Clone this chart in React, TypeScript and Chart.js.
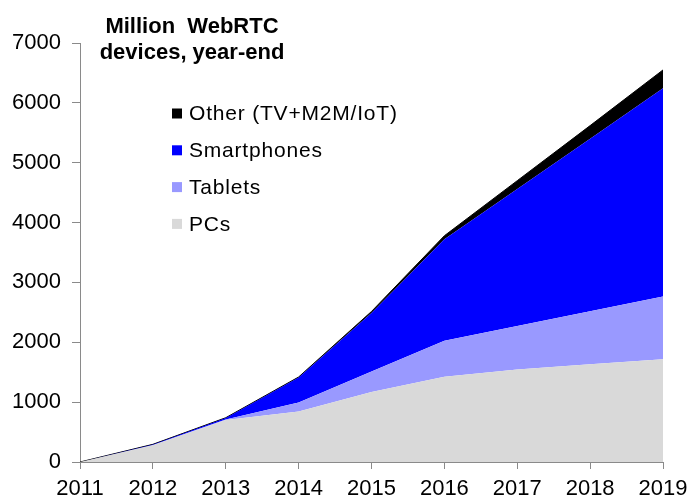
import React, { useEffect, useRef } from "react";
import { Chart, registerables } from "chart.js";

Chart.register(...registerables);

const YEARS = ["2011", "2012", "2013", "2014", "2015", "2016", "2017", "2018", "2019"];
const PCS = [0, 280, 700, 845, 1170, 1425, 1545, 1635, 1715];
const TABLETS = [0, 5, 12, 150, 340, 600, 725, 885, 1050];
const SMARTPHONES = [0, 7, 23, 415, 980, 1695, 2290, 2880, 3480];
const OTHER = [0, 3, 5, 10, 25, 60, 140, 220, 305];
const SERIES_LABELS = ["PCs", "Tablets", "Smartphones", "Other (TV+M2M/IoT)"];
const TITLE_LINES = ["Million  WebRTC", "devices, year-end"];
const Y_MIN = 0;
const Y_MAX = 7000;
const Y_STEP = 1000;

const FONT = '"Liberation Sans", Arial, sans-serif';
const AXIS_COLOR = "#8a8a8a";

const overlay = {
  id: "overlay",
  afterDraw(chart: any) {
    const ctx = chart.ctx as CanvasRenderingContext2D;
    const a = chart.chartArea;
    ctx.save();
    ctx.fillStyle = "#000";
    ctx.font = `bold 22px ${FONT}`;
    ctx.textAlign = "center";
    ctx.textBaseline = "alphabetic";
    TITLE_LINES.forEach((t, i) => ctx.fillText(t, a.left + 112, a.top - 10 + i * 26));

    const ds = chart.data.datasets;
    const order = ds.map((_: any, i: number) => i).reverse();
    ctx.font = `21px ${FONT}`;
    ctx.textAlign = "left";
    ctx.textBaseline = "middle";
    (ctx as any).letterSpacing = "0.8px";
    order.forEach((di: number, row: number) => {
      const y = a.top + 70.5 + row * 36.8;
      ctx.fillStyle = ds[di].backgroundColor;
      ctx.fillRect(a.left + 92, y - 5, 10, 10);
      ctx.fillStyle = "#000";
      ctx.fillText(ds[di].label, a.left + 109, y + 1);
    });
    ctx.restore();
  },
};

export default function App() {
  const ref = useRef<HTMLCanvasElement>(null);
  useEffect(() => {
    document.body.style.margin = "0";
    const colors = ["#d9d9d9", "#9999ff", "#0000ff", "#000000"];
    const values = [PCS, TABLETS, SMARTPHONES, OTHER];
    const chart = new Chart(ref.current!, {
      type: "line",
      data: {
        labels: YEARS,
        datasets: values.map((v, i) => ({
          label: SERIES_LABELS[i],
          data: v,
          backgroundColor: colors[i],
          borderColor: colors[i],
          borderWidth: i === 3 ? 1 : 0,
          fill: i === 0 ? "origin" : "-1",
          pointRadius: 0,
          tension: 0,
        })),
      },
      options: {
        animation: false,
        responsive: false,
        devicePixelRatio: 1,
        layout: { padding: { top: 43, right: 25, left: 0, bottom: 0 } },
        plugins: {
          legend: { display: false },
          tooltip: { enabled: false },
          title: { display: false },
        },
        scales: {
          x: {
            type: "category",
            offset: false,
            grid: {
              display: true,
              drawOnChartArea: false,
              drawTicks: true,
              tickLength: 7,
              color: AXIS_COLOR,
            },
            border: { display: true, color: AXIS_COLOR, width: 1 },
            ticks: {
              color: "#000",
              font: { family: FONT, size: 22 },
              padding: 7,
              autoSkip: false,
              maxRotation: 0,
            },
            afterFit: (s: any) => {
              s.height = 37;
              s.paddingLeft = 0;
              s.paddingRight = 0;
            },
          },
          y: {
            stacked: true,
            min: Y_MIN,
            max: Y_MAX,
            grid: {
              display: true,
              drawOnChartArea: false,
              drawTicks: true,
              tickLength: 8,
              color: AXIS_COLOR,
            },
            border: { display: true, color: AXIS_COLOR, width: 1 },
            ticks: {
              stepSize: Y_STEP,
              color: "#000",
              font: { family: FONT, size: 22 },
              padding: 11,
              callback: (v: any) => String(v),
            },
            afterFit: (s: any) => {
              s.width = 80;
              s.paddingTop = 0;
              s.paddingBottom = 0;
            },
          },
        },
      },
      plugins: [overlay],
    });
    return () => chart.destroy();
  }, []);
  return (
    <div style={{ width: 688, height: 499 }}>
      <canvas ref={ref} width={688} height={499} style={{ display: "block" }} />
    </div>
  );
}
